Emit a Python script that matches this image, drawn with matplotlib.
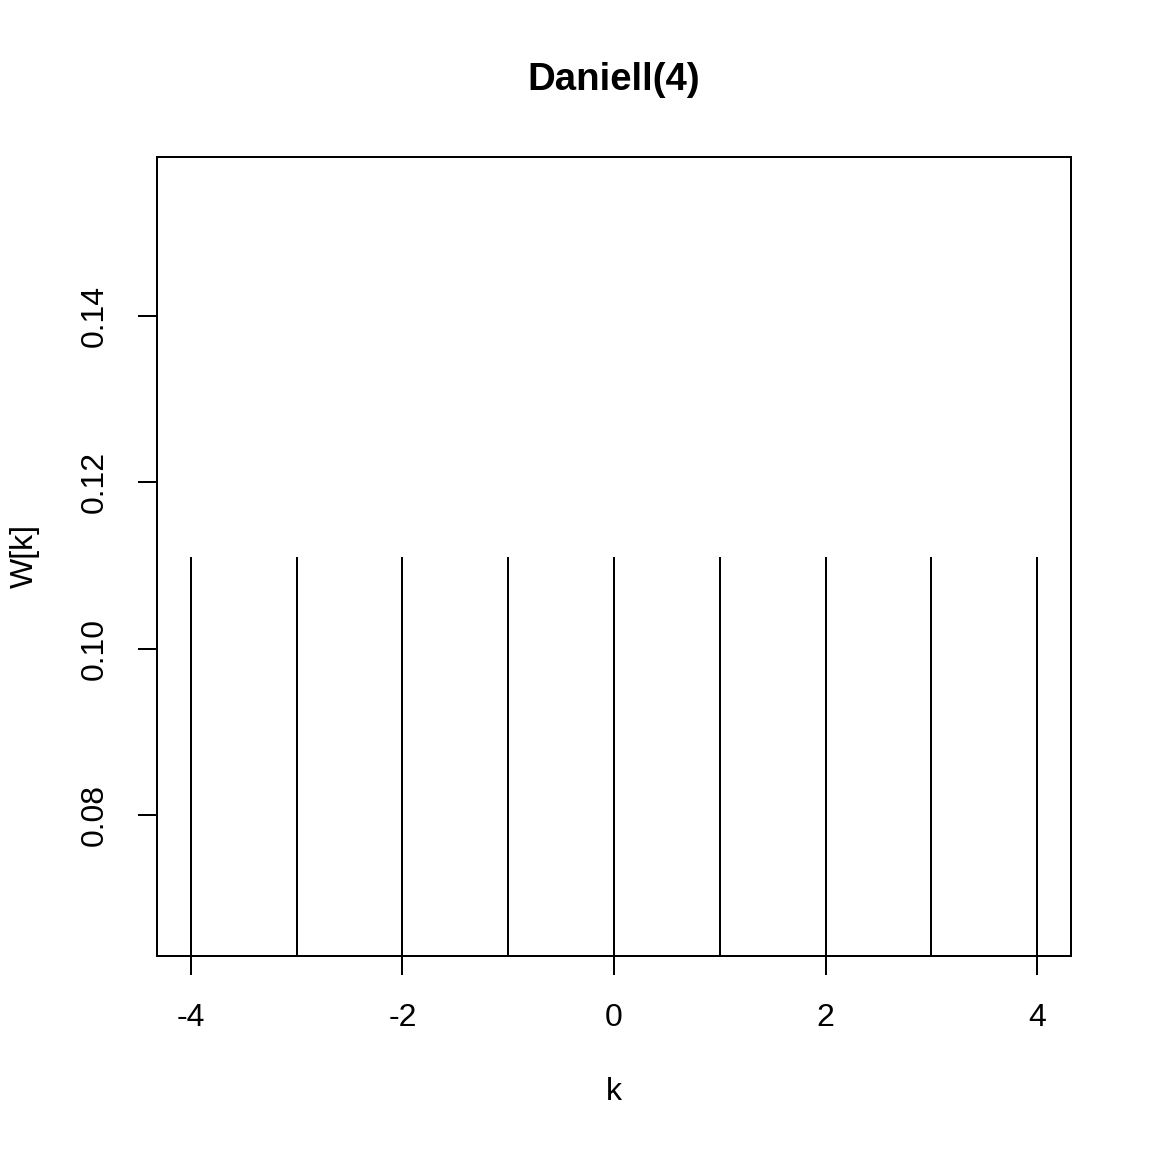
import matplotlib
matplotlib.use("Agg")
import matplotlib.pyplot as plt

plt.rcParams["font.family"] = ["Liberation Sans", "DejaVu Sans"]
plt.rcParams["font.size"] = 12

# Daniell(4) kernel weights
k = [-4, -3, -2, -1, 0, 1, 2, 3, 4]
w = [0.1111, 0.1111, 0.1111, 0.1111, 0.1111, 0.1111, 0.1111, 0.1111, 0.1111]
xticks = [-4, -2, 0, 2, 4]
yticks = [0.08, 0.10, 0.12, 0.14]

fig = plt.figure(figsize=(6, 6), dpi=192)
W = H = 1152.0
ax = fig.add_axes([157 / W, 1 - 956 / H, (1071 - 157) / W, (956 - 157) / H])

ax.vlines(k, 0, w, colors="black", linewidth=0.75)

# R-style limits: constant series -> +/-40%, then 4% padding
lo, hi = min(w) * 0.6, max(w) * 1.4
pad = (hi - lo) * 0.04
ax.set_ylim(lo - pad, hi + pad)
xpad = (max(k) - min(k)) * 0.04
ax.set_xlim(min(k) - xpad, max(k) + xpad)

ax.set_xticks(xticks)
ax.set_xticklabels([str(t) for t in xticks])
ax.set_yticks(yticks)
ax.set_yticklabels(["%.2f" % t for t in yticks])
ax.tick_params(axis="both", direction="out", length=7.2, width=0.75, pad=10.5,
               labelsize=12, colors="black")
ax.tick_params(axis="y", labelrotation=90)
for lab in ax.get_yticklabels():
    lab.set_va("center")
for s in ax.spines.values():
    s.set_linewidth(0.75)

fig.text(614 / W, 1 - 80 / H, "Daniell(4)", ha="center", va="center",
         fontsize=14.4, fontweight="bold")
fig.text(614 / W, 1 - 1092 / H, "k", ha="center", va="center", fontsize=12)
fig.text(25 / W, 1 - 556 / H, "W[k]", ha="center", va="center", fontsize=12,
         rotation=90)

fig.savefig("out.png", dpi=192)
